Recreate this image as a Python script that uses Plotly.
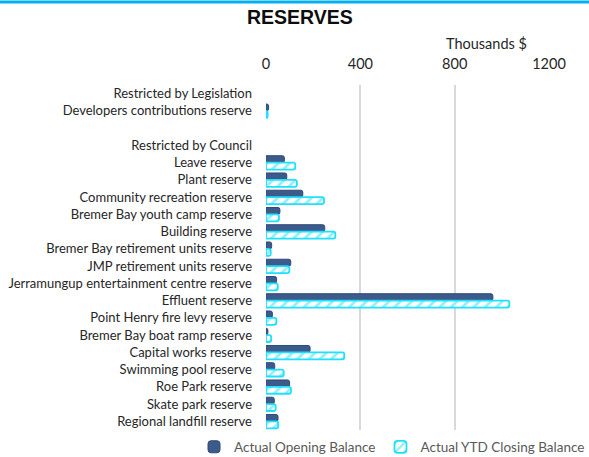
import plotly.graph_objects as go

categories = [
    "Restricted by Legislation",
    "Developers contributions reserve",
    " ",
    "Restricted by Council",
    "Leave reserve",
    "Plant reserve",
    "Community recreation reserve",
    "Bremer Bay youth camp reserve",
    "Building reserve",
    "Bremer Bay retirement units reserve",
    "JMP retirement units reserve",
    "Jerramungup entertainment centre reserve",
    "Effluent reserve",
    "Point Henry fire levy reserve",
    "Bremer Bay boat ramp reserve",
    "Capital works reserve",
    "Swimming pool reserve",
    "Roe Park reserve",
    "Skate park reserve",
    "Regional landfill reserve",
]
opening = [None, 11, None, None, 78, 88, 156, 59, 249, 24, 105, 45, 962, 27, 8, 187, 37, 100, 35, 51]
closing = [None, 7, None, None, 124, 131, 246, 55, 294, 20, 99, 50, 1032, 44, 22, 332, 75, 106, 41, 52]
x_ticks = [0, 400, 800, 1200]

W, H = 589, 457
L, R, T, B = 266, 40, 85, 27
pw, ph = W - L - R, H - T - B

fig = go.Figure()
fig.add_trace(go.Bar(
    y=categories, x=opening, orientation="h", name="Actual Opening Balance",
    marker=dict(color="#3C5A8A", line=dict(color="#2E4A78", width=1)),
))
fig.add_trace(go.Bar(
    y=categories, x=closing, orientation="h", name="Actual YTD Closing Balance",
    marker=dict(color="white", line=dict(color="#1FE0FF", width=1.8),
                pattern=dict(shape="/", fgcolor="#1FE0FF", bgcolor="white", size=8, solidity=0.35)),
))

fig.update_layout(
    width=W, height=H,
    margin=dict(l=L, r=R, t=T, b=B, autoexpand=False),
    paper_bgcolor="white", plot_bgcolor="white",
    font=dict(family="Lato, Open Sans, sans-serif", size=13, color="#262626"),
    barmode="group", bargap=0.2, bargroupgap=0.0, barcornerradius=2,
    showlegend=True,
    legend=dict(orientation="h", x=(194 - L) / pw, xanchor="left", y=-(447 - (H - B)) / ph, yanchor="middle",
                font=dict(size=13.5, color="#595959"), traceorder="normal", itemwidth=30,
                bgcolor="rgba(0,0,0,0)", tracegroupgap=0),
    xaxis=dict(side="top", range=[0, 1200], tickvals=x_ticks, showgrid=True, gridcolor="#D9D9D9",
               gridwidth=1.5, zeroline=False, showline=False, ticks="", automargin=False,
               ticklabelstandoff=12, tickfont=dict(size=14.5, color="#262626")),
    yaxis=dict(autorange="reversed", showgrid=False, zeroline=False, showline=False, ticks="",
               automargin=False, ticklabelstandoff=13, tickfont=dict(size=13, color="#262626")),
    annotations=[
        dict(text="<b>RESERVES</b>", xref="paper", yref="paper", x=(300 - L) / pw, y=(H - B - 17) / ph,
             xanchor="center", yanchor="middle", showarrow=False, font=dict(size=19.5, color="#0D0D0D",
             family="Liberation Sans, Arial, sans-serif")),
        dict(text="Thousands $", xref="paper", yref="paper", x=(486 - L) / pw, y=(H - B - 43) / ph,
             xanchor="center", yanchor="middle", showarrow=False, font=dict(size=14.5, color="#262626")),
    ],
    shapes=[
        dict(type="line", xref="paper", yref="paper", x0=-L / pw, x1=(W - L) / pw,
             y0=(H - B - 2) / ph, y1=(H - B - 2) / ph, line=dict(color="#00B0F0", width=3)),
    ],
)

fig.write_html("out.html", post_script="document.body.style.margin='0px';",
               config={"displayModeBar": False})
